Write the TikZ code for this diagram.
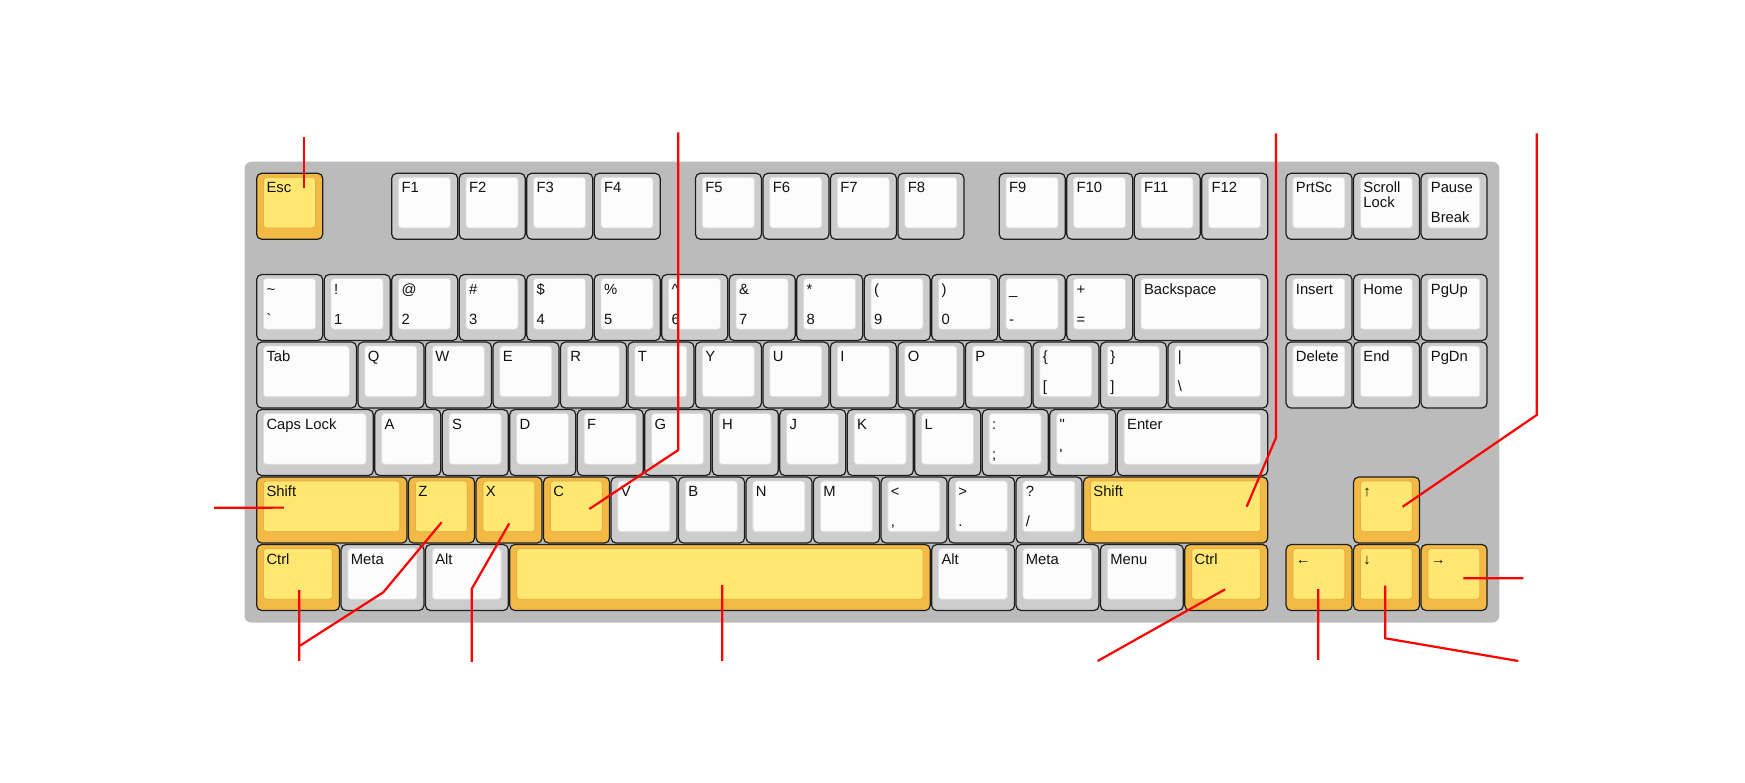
\documentclass[tikz,border=0pt]{standalone}
\usepackage{fontspec}
\setmainfont{Liberation Sans}[Ligatures=TeXOff]
\usetikzlibrary{calc,positioning}

\definecolor{boardgrey}{HTML}{BBBBBB}
\definecolor{keyrim}{HTML}{CCCCCC}
\definecolor{keytop}{HTML}{FCFCFC}
\definecolor{topedge}{HTML}{DDDDDD}
\definecolor{keyedge}{HTML}{1E1E1E}
\definecolor{hotrim}{HTML}{F2B944}
\definecolor{hottop}{HTML}{FFE772}
\definecolor{hotedge}{HTML}{E4AE48}
\definecolor{keyink}{HTML}{111111}
\definecolor{leadred}{HTML}{FF0000}

\def\keyunit{67.5}

\begin{document}
\begin{tikzpicture}[
    x=1pt, y=1pt,
    keybody/.style={
        rectangle, rounded corners=5pt,
        draw=keyedge, line width=1.2pt,
        minimum width={#1*\keyunit pt-1.5pt},
        minimum height=66pt,
        inner sep=0pt, outer sep=0pt, anchor=north west
    },
    keyface/.style 2 args={
        path picture={
            \draw[draw=#2, fill=#1, line width=0.8pt, rounded corners=3pt]
                ([shift={(6.8pt,-4pt)}]path picture bounding box.north west)
                rectangle ([shift={(-7.2pt,11.3pt)}]path picture bounding box.south east);
        }
    },
    greykey/.style={keybody=#1, fill=keyrim, keyface={keytop}{topedge}},
    greykey/.default=1,
    hotkey/.style={keybody=#1, fill=hotrim, keyface={hottop}{hotedge}},
    hotkey/.default=1,
    keylabel/.style={anchor=base west, inner sep=0pt, text=keyink,
        font=\fontsize{14.8}{15}\selectfont},
    legA/.style={shift={(9.6pt,-19.6pt)}},
    legB/.style={shift={(9.6pt,-34.6pt)}},
    legC/.style={shift={(9.6pt,-49.5pt)}},
    leader/.style={draw=leadred, line width=2.2pt}
]
\useasboundingbox (0,0) rectangle (1745,783);

% case
\fill[boardgrey, rounded corners=7pt] (244.5,160.3) rectangle (1499.3,621.3);

\begin{scope}[shift={(256.7,609.7)}, x=\keyunit pt, y=-\keyunit pt]

% keys with one legend
\foreach \ka/\kc/\kr/\kw/\kt in {
    f1/2/0/1/F1, f2/3/0/1/F2, f3/4/0/1/F3, f4/5/0/1/F4,
    f5/6.5/0/1/F5, f6/7.5/0/1/F6, f7/8.5/0/1/F7, f8/9.5/0/1/F8,
    f9/11/0/1/F9, f10/12/0/1/F10, f11/13/0/1/F11, f12/14/0/1/F12,
    prtsc/15.25/0/1/PrtSc, scroll/16.25/0/1/Scroll,
    bksp/13/1.5/2/Backspace, ins/15.25/1.5/1/Insert, home/16.25/1.5/1/Home, pgup/17.25/1.5/1/PgUp,
    tab/0/2.5/1.5/Tab, del/15.25/2.5/1/Delete, end/16.25/2.5/1/End, pgdn/17.25/2.5/1/PgDn,
    caps/0/3.5/1.75/Caps Lock, enter/12.75/3.5/2.25/Enter,
    lmeta/1.25/5.5/1.25/Meta, lalt/2.5/5.5/1.25/Alt,
    ralt/10/5.5/1.25/Alt, rmeta/11.25/5.5/1.25/Meta, menu/12.5/5.5/1.25/Menu} {
    \node[greykey=\kw] (\ka) at (\kc,\kr) {};
    \node[keylabel] (\ka-a) at ([legA]\ka.north west) {\kt};
}
\node[keylabel] (scroll-b) at ([legB]scroll.north west) {Lock};

% keys with two legends
\foreach \ka/\kc/\kr/\kw/\kt/\kb in {
    pause/17.25/0/1/Pause/Break,
    tilde/0/1.5/1/\textasciitilde/\textasciigrave, one/1/1.5/1/!/1, two/2/1.5/1/@/2,
    three/3/1.5/1/\#/3, four/4/1.5/1/\$/4, five/5/1.5/1/\%/5,
    six/6/1.5/1/\textasciicircum/6, seven/7/1.5/1/\&/7, eight/8/1.5/1/*/8,
    nine/9/1.5/1/{(}/9, zero/10/1.5/1/{)}/0, minus/11/1.5/1/\_/-, equal/12/1.5/1/+/=,
    lbrack/11.5/2.5/1/\{/{[}, rbrack/12.5/2.5/1/\}/{]}, bslash/13.5/2.5/1.5/\textbar/\textbackslash,
    semi/10.75/3.5/1/{:}/{;}, quote/11.75/3.5/1/\textquotedbl/\textquotesingle,
    comma/9.25/4.5/1/{<}/{,}, period/10.25/4.5/1/{>}/{.}, slash/11.25/4.5/1/{?}/{/}} {
    \node[greykey=\kw] (\ka) at (\kc,\kr) {};
    \node[keylabel] (\ka-a) at ([legA]\ka.north west) {\kt};
    \node[keylabel] (\ka-c) at ([legC]\ka.north west) {\kb};
}

% letter rows
\foreach \kt [count=\i] in {Q,W,E,R,T,Y,U,I,O,P} {
    \node[greykey] (k\kt) at (0.5+\i,2.5) {};
    \node[keylabel] (k\kt-a) at ([legA]k\kt.north west) {\kt};
}
\foreach \kt [count=\i] in {A,S,D,F,G,H,J,K,L} {
    \node[greykey] (k\kt) at (0.75+\i,3.5) {};
    \node[keylabel] (k\kt-a) at ([legA]k\kt.north west) {\kt};
}
\foreach \kt [count=\i] in {V,B,N,M} {
    \node[greykey] (k\kt) at (4.25+\i,4.5) {};
    \node[keylabel] (k\kt-a) at ([legA]k\kt.north west) {\kt};
}

% marked keys
\foreach \ka/\kc/\kr/\kw/\kt in {
    esc/0/0/1/Esc, lshift/0/4.5/2.25/Shift, kZ/2.25/4.5/1/Z, kX/3.25/4.5/1/X, kC/4.25/4.5/1/C,
    rshift/12.25/4.5/2.75/Shift, arrUp/16.25/4.5/1/↑,
    lctrl/0/5.5/1.25/Ctrl, rctrl/13.75/5.5/1.25/Ctrl,
    arrLeft/15.25/5.5/1/←, arrDown/16.25/5.5/1/↓, arrRight/17.25/5.5/1/→} {
    \node[hotkey=\kw] (\ka) at (\kc,\kr) {};
    \node[keylabel] (\ka-a) at ([legA]\ka.north west) {\kt};
}
\node[hotkey=6.25] (spacebar) at (3.75,5.5) {};

\end{scope}

% free ends of the leaders
\coordinate (escTop) at (304,645.7);
\coordinate (cTop) at (678.3,650.5);
\coordinate (cBend) at (678.3,333);
\coordinate (rshTop) at (1276,649.7);
\coordinate (rshBend) at (1276,345.3);
\coordinate (upTop) at (1536.7,649.7);
\coordinate (upBend) at (1536.7,368);
\coordinate (lshEnd) at (214,275.3);
\coordinate (lctlEnd) at (299.3,122);
\coordinate (zBend) at (383.3,190.7);
\coordinate (zEnd) at (300,137.3);
\coordinate (xBend) at (471.7,194);
\coordinate (xEnd) at (471.7,121);
\coordinate (spcEnd) at (722.3,122);
\coordinate (rctlEnd) at (1097.7,122);
\coordinate (leftEnd) at (1318.3,123);
\coordinate (downBend) at (1385.3,144.7);
\coordinate (downEnd) at (1518.3,122);
\coordinate (rightEnd) at (1523.3,204.7);

\draw[leader] (escTop) -- ([shift={(14.3,18.3)}]esc.center);
\draw[leader] (cTop) -- (cBend) -- ([shift={(12.7,1)}]kC.center);
\draw[leader] (rshTop) -- (rshBend) -- ([shift={(71,3.3)}]rshift.center);
\draw[leader] (upTop) -- (upBend) -- ([shift={(16.1,3.3)}]arrUp.center);
\draw[leader] (lshEnd) -- ([shift={(-47.9,2.4)}]lshift.center);
\draw[leader] (lctlEnd) -- ([shift={(1.2,-12.5)}]lctrl.center);
\draw[leader] (zEnd) -- (zBend) -- ([shift={(0,-12.3)}]kZ.center);
\draw[leader] (xEnd) -- (xBend) -- ([shift={(0.2,-13.3)}]kX.center);
\draw[leader] (spcEnd) -- ([shift={(2.3,-7.5)}]spacebar.center);
\draw[leader] (rctlEnd) -- ([shift={(-1.2,-11.8)}]rctrl.center);
\draw[leader] (leftEnd) -- ([shift={(-0.8,-11.5)}]arrLeft.center);
\draw[leader] (downEnd) -- (downBend) -- ([shift={(-1.3,-8)}]arrDown.center);
\draw[leader] (rightEnd) -- ([shift={(9.2,-0.8)}]arrRight.center);

\end{tikzpicture}
\end{document}
